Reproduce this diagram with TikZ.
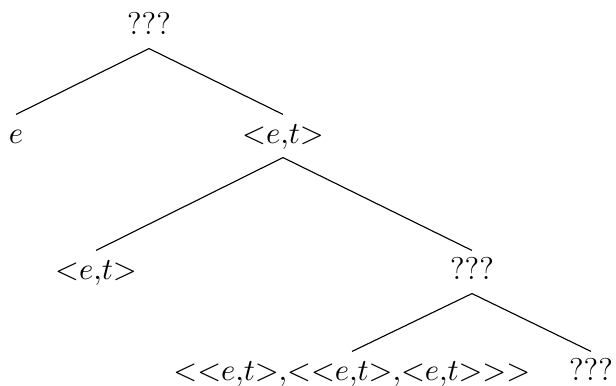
\documentclass[tikz,border=0pt]{standalone}
\newcommand{\ETpair}{{<}e{,}t{>}}
\begin{document}
\begin{tikzpicture}[x=0.357143pt, y=-0.357143pt,
  lab/.style={anchor=base, inner sep=0pt, text height=10pt, text depth=5pt, font=\fontsize{11.25}{13.5}\selectfont},
  branch/.style={line width=0.4pt}]
\useasboundingbox (0,0) rectangle (616,385);
\node[lab] (root) at (149,34) {???};
\node[lab] (e) at (16,143) {$e$};
\node[lab] (et1) at (283,143) {$\ETpair$};
\node[lab] (et2) at (96,279) {$\ETpair$};
\node[lab] (q2) at (472,279) {???};
\node[lab] (long) at (352,380) {${<}\ETpair{,}{<}\ETpair{,}\ETpair{>}{>}$};
\node[lab] (q3) at (591,380) {???};
\draw[branch] (root.south) -- (e.north);
\draw[branch] (root.south) -- (et1.north);
\draw[branch] (et1.south) -- (et2.north);
\draw[branch] (et1.south) -- (q2.north);
\draw[branch] (q2.south) -- (long.north);
\draw[branch] (q2.south) -- (q3.north);
\end{tikzpicture}
\end{document}
